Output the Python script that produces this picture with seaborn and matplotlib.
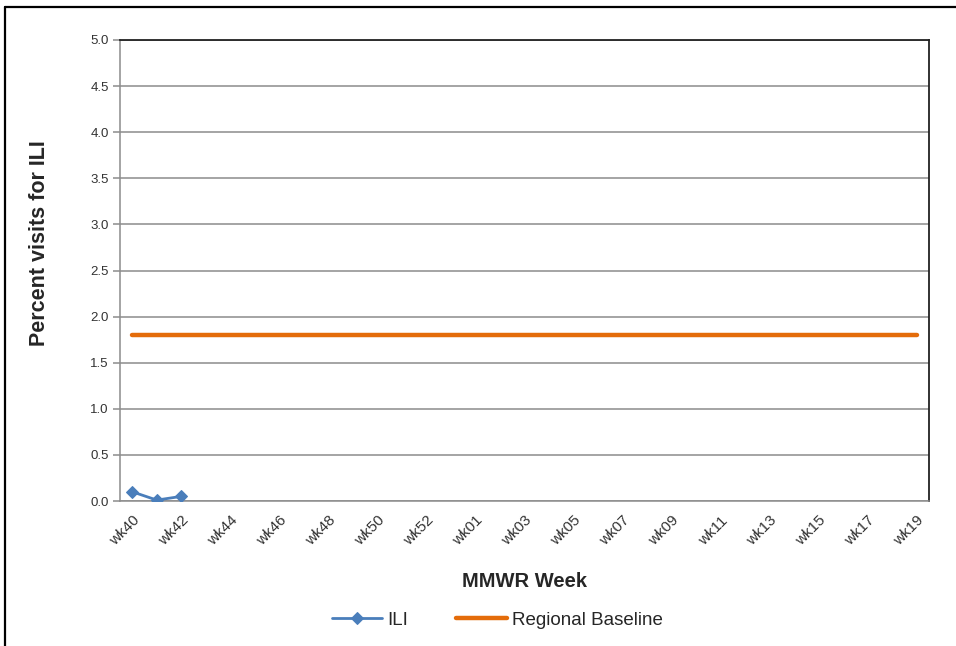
import numpy as np
import pandas as pd
import seaborn as sns
import matplotlib.pyplot as plt
from matplotlib.lines import Line2D
from matplotlib.ticker import FormatStrFormatter

# ==============================================================================
# 1. DATA
# ==============================================================================
weeks = [f"wk{w}" for w in range(40, 54)] + [f"wk{w:02d}" for w in range(1, 20)]
ili_weeks = ["wk40", "wk41", "wk42"]
ili_values = [0.10, 0.01, 0.05]
baseline_value = 1.8

df_base = pd.DataFrame({"week": weeks, "pos": range(len(weeks)),
                        "value": [baseline_value] * len(weeks)})
df_ili = pd.DataFrame({"week": ili_weeks,
                       "pos": [weeks.index(w) for w in ili_weeks],
                       "value": ili_values})

# ==============================================================================
# 2. FIGURE
# ==============================================================================
sns.set_style("white")
plt.rcParams['font.family'] = ['Liberation Sans', 'DejaVu Sans']

fig = plt.figure(figsize=(9.56, 6.46), dpi=100)
ax = fig.add_axes([120 / 956, 1 - 501 / 646, (929 - 120) / 956, (501 - 40) / 646])

blue = "#4A7EBB"
orange = "#E46C0A"

sns.lineplot(data=df_base, x="pos", y="value", ax=ax, color=orange, lw=3.2,
             solid_capstyle="round", label="Regional Baseline", zorder=3)
sns.lineplot(data=df_ili, x="pos", y="value", ax=ax, color=blue, lw=2,
             marker="D", markersize=6, markeredgecolor=blue, label="ILI", zorder=4)

ax.set_xlim(-0.5, len(weeks) - 0.5)
ax.set_ylim(0, 5.0)
ax.set_yticks(np.arange(0, 5.01, 0.5))
ax.yaxis.set_major_formatter(FormatStrFormatter('%.1f'))
ax.grid(axis='y', color='#8c8c8c', lw=1.1)
ax.set_axisbelow(True)

# category ticks between weeks, labels every other week
ax.set_xticks(range(0, len(weeks), 2))
ax.set_xticklabels(weeks[::2], rotation=45, ha='right', rotation_mode='anchor',
                   fontsize=11, color='#333333')
ax.set_xticks(np.arange(-0.5, len(weeks), 1), minor=True)
ax.tick_params(axis='x', which='major', length=0, pad=9)
ax.tick_params(axis='x', which='minor', length=5, color='#8c8c8c', width=1.1,
               direction='out')
ax.tick_params(axis='y', length=5, color='#8c8c8c', width=1.1, direction='out',
               labelsize=9.5, pad=3, left=True, labelcolor='#333333')

for s in ['left', 'bottom']:
    ax.spines[s].set_color('#8c8c8c')
    ax.spines[s].set_linewidth(1.1)
for s in ['top', 'right']:
    ax.spines[s].set_color('#222222')
    ax.spines[s].set_linewidth(1.3)

ax.set_xlabel("MMWR Week", fontsize=14.5, fontweight='bold')
ax.set_ylabel("Percent visits for ILI", fontsize=15.5, fontweight='bold')
ax.xaxis.set_label_coords(0.5, -0.155)
ax.yaxis.set_label_coords(-0.087, 0.56)

handles, labels = ax.get_legend_handles_labels()
ax.get_legend().remove()
order = [labels.index("ILI"), labels.index("Regional Baseline")]
fig.legend([handles[i] for i in order], [labels[i] for i in order],
           loc='center', bbox_to_anchor=(0.520, 1 - 620 / 646), ncol=2,
           frameon=False, fontsize=13.5, handlelength=2.7, columnspacing=2.6,
           handletextpad=0.25)

# outer chart frame
fig.add_artist(Line2D([5 / 956, 1], [1 - 7 / 646, 1 - 7 / 646], color='black',
                      lw=1.6, transform=fig.transFigure))
fig.add_artist(Line2D([5 / 956, 5 / 956], [0, 1 - 7 / 646], color='black',
                      lw=1.6, transform=fig.transFigure))

fig.savefig("out.png", dpi=100)
